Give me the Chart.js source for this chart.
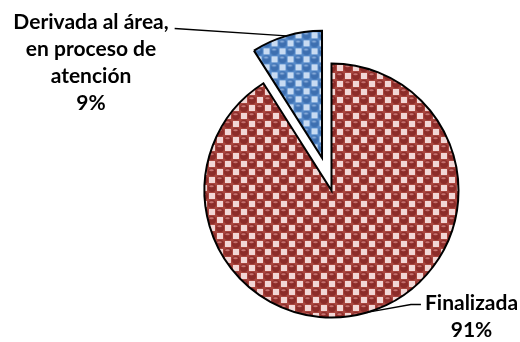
<!DOCTYPE html>
<html>
<head>
<meta charset="utf-8">
<script src="https://cdn.jsdelivr.net/npm/chart.js@4"></script>
<style>
  html, body { margin: 0; padding: 0; background: #fff; }
  #wrap { width: 520px; height: 342px; }
</style>
</head>
<body>
<div id="wrap"><canvas id="pie"></canvas></div>
<script>
// Datos del gráfico
const categories = ["Finalizada", "Derivada al área, en proceso de atención"];
const values = [91, 9];
const percentLabels = ["91%", "9%"];
const labelLines = [["Finalizada"], ["Derivada al área,", "en proceso de", "atención"]];

// Relleno de trama tipo "esferas" (como en Excel)
function makePattern(base, light, ball, shine) {
  const c = document.createElement("canvas");
  c.width = 16; c.height = 16;
  const g = c.getContext("2d");
  g.fillStyle = base;
  g.fillRect(0, 0, 16, 16);
  g.fillStyle = light;
  g.fillRect(1, 1, 6, 6);
  g.fillRect(9, 9, 6, 6);
  [[12, 4], [4, 12]].forEach(function(p) {
    g.fillStyle = ball;
    g.beginPath();
    g.arc(p[0], p[1], 4.0, 0, Math.PI * 2);
    g.fill();
    g.fillStyle = shine;
    g.beginPath();
    g.ellipse(p[0] - 0.5, p[1] - 1.7, 2.3, 1.0, 0, 0, Math.PI * 2);
    g.fill();
  });
  return document.getElementById("pie").getContext("2d").createPattern(c, "repeat");
}

const redFill = makePattern("#a8463f", "#f2d6d5", "#8c2c29", "#c6726f");
const blueFill = makePattern("#578bca", "#c8dbf2", "#3d6fb0", "#8db0dd");

// Desplazamiento de la porción separada (px)
const explode = [0, 34];

const explodePlugin = {
  id: "explode",
  beforeDatasetDraw(chart, args) {
    const ctx = chart.ctx;
    args.meta.data.forEach(function(arc, i) {
      const d = explode[i] || 0;
      const mid = (arc.startAngle + arc.endAngle) / 2;
      ctx.save();
      ctx.translate(Math.cos(mid) * d, Math.sin(mid) * d);
      arc.draw(ctx, chart.chartArea);
      ctx.restore();
    });
    return false;
  }
};

const FONT = "bold 21px Lato";
const LINE_H = 27;

const labelPlugin = {
  id: "pieLabels",
  afterDatasetsDraw(chart) {
    const ctx = chart.ctx;
    const arcs = chart.getDatasetMeta(0).data;
    ctx.save();
    ctx.font = FONT;
    ctx.fillStyle = "#000";
    ctx.strokeStyle = "#000";
    ctx.lineWidth = 1.3;
    ctx.textAlign = "center";
    ctx.textBaseline = "middle";

    // Finalizada (abajo a la derecha)
    const a0 = arcs[0];
    const r0 = a0.outerRadius;
    const lx0 = a0.x + 140, ly0 = a0.y + 113;
    const lines0 = labelLines[0].concat([percentLabels[0]]);
    lines0.forEach(function(t, k) { ctx.fillText(t, lx0, ly0 + k * LINE_H); });
    const w0 = ctx.measureText(lines0[0]).width;
    const m0 = (a0.startAngle + a0.endAngle) / 2;
    ctx.beginPath();
    ctx.moveTo(lx0 - w0 / 2 - 4, ly0 + 1);
    ctx.lineTo(lx0 - w0 / 2 - 14, ly0 + 1);
    ctx.lineTo(a0.x + Math.cos(m0) * r0, a0.y + Math.sin(m0) * r0);
    ctx.stroke();

    // Derivada (arriba a la izquierda)
    const a1 = arcs[1];
    const m1 = (a1.startAngle + a1.endAngle) / 2;
    const lx1 = a1.x - 240.5, ly1 = a1.y - 168;
    const lines1 = labelLines[1].concat([percentLabels[1]]);
    lines1.forEach(function(t, k) { ctx.fillText(t, lx1, ly1 + k * LINE_H); });
    const w1 = ctx.measureText(lines1[0]).width;
    const ex = a1.x + Math.cos(m1) * (a1.outerRadius + explode[1]);
    const ey = a1.y + Math.sin(m1) * (a1.outerRadius + explode[1]);
    ctx.beginPath();
    ctx.moveTo(lx1 + w1 / 2 + 6, ly1 + 6);
    ctx.lineTo(ex, ey);
    ctx.stroke();
    ctx.restore();
  }
};

new Chart(document.getElementById("pie"), {
  type: "pie",
  data: {
    labels: categories,
    datasets: [{
      data: values,
      backgroundColor: [redFill, blueFill],
      borderColor: "#000",
      borderWidth: 2,
      borderJoinStyle: "miter"
    }]
  },
  options: {
    responsive: true,
    maintainAspectRatio: false,
    animation: false,
    radius: 127,
    layout: { padding: { left: 143, right: 0, top: 39, bottom: 0 } },
    plugins: {
      legend: { display: false },
      tooltip: { enabled: false }
    }
  },
  plugins: [explodePlugin, labelPlugin]
});
</script>
</body>
</html>
